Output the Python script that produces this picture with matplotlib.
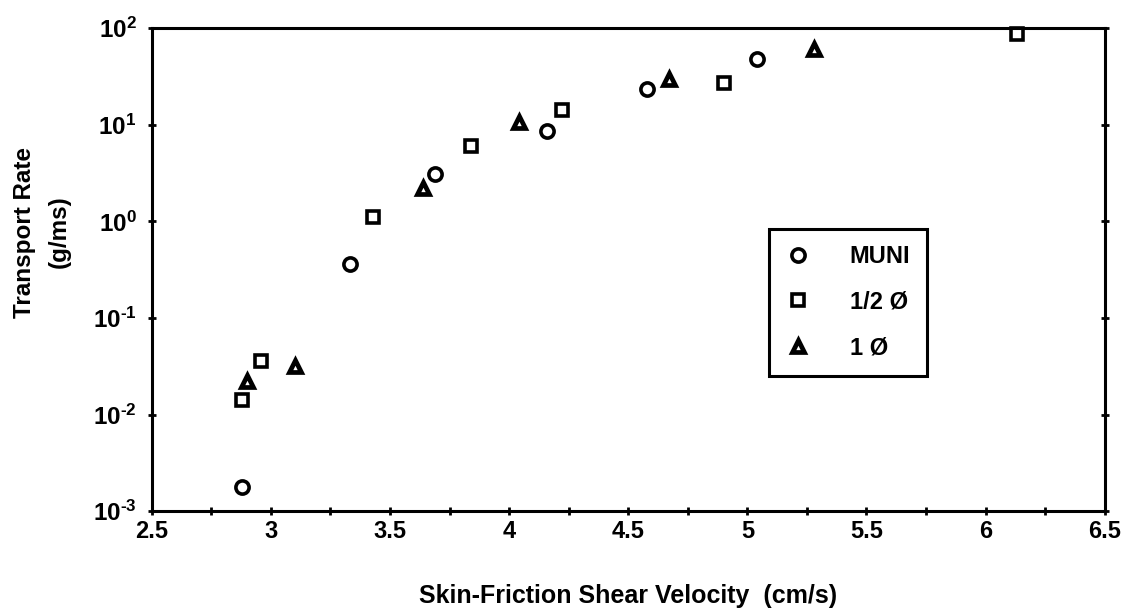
import math
import matplotlib
matplotlib.use("Agg")
import matplotlib.pyplot as plt
from matplotlib.ticker import FixedLocator, FuncFormatter, MultipleLocator

plt.rcParams['font.family'] = ['Liberation Sans', 'DejaVu Sans']
plt.rcParams['font.weight'] = 'bold'
plt.rcParams['mathtext.fontset'] = 'custom'
plt.rcParams['mathtext.rm'] = 'Liberation Sans:bold'
plt.rcParams['mathtext.bf'] = 'Liberation Sans:bold'
plt.rcParams['mathtext.it'] = 'Liberation Sans:bold'

# Data
muni_x = [2.88, 3.33, 3.69, 4.16, 4.58, 5.04]
muni_y = [0.0018, 0.36, 3.1, 8.7, 23.5, 48.0]

half_x = [2.88, 2.96, 3.43, 3.84, 4.22, 4.90, 6.13]
half_y = [0.0143, 0.036, 1.12, 6.0, 14.4, 27.0, 88.0]

one_x = [2.90, 3.10, 3.64, 4.04, 4.67, 5.28]
one_y = [0.0225, 0.032, 2.2, 10.6, 30.0, 61.0]

labels = ["MUNI", "1/2 Ø", "1 Ø"]
x_ticks = [2.5, 3, 3.5, 4, 4.5, 5, 5.5, 6, 6.5]
x_tick_labels = ["2.5", "3", "3.5", "4", "4.5", "5", "5.5", "6", "6.5"]
y_exps = [-3, -2, -1, 0, 1, 2]

fig = plt.figure(figsize=(11.33, 6.13), dpi=100)
ax = fig.add_axes([0.134, 0.166, 0.841, 0.788])

ax.plot(muni_x, muni_y, linestyle='none', marker='o', ms=9.5, mew=2.6,
        mfc='white', mec='black', label=labels[0], clip_on=False)
ax.plot(half_x, half_y, linestyle='none', marker='s', ms=9.0, mew=2.6,
        mfc='white', mec='black', label=labels[1], clip_on=False)
ax.plot(one_x, one_y, linestyle='none', marker='^', ms=8.5, mew=3.4,
        mfc='white', mec='black', label=labels[2], clip_on=False)

ax.set_yscale('log')
ax.set_xlim(2.5, 6.5)
ax.set_ylim(1e-3, 1e2)

ax.xaxis.set_major_locator(FixedLocator(x_ticks))
ax.set_xticklabels(x_tick_labels)
ax.xaxis.set_minor_locator(MultipleLocator(0.25))
ax.yaxis.set_major_locator(FixedLocator([10.0 ** e for e in y_exps]))
ax.yaxis.set_minor_locator(FixedLocator([]))


def yfmt(v, p):
    e = int(round(math.log10(v)))
    if e < 0:
        return r'$\mathbf{10^{\text{-}%d}}$' % (-e)
    return r'$\mathbf{10^{%d}}$' % e


ax.yaxis.set_major_formatter(FuncFormatter(yfmt))

for s in ax.spines.values():
    s.set_linewidth(2.2)

ax.tick_params(axis='x', which='both', direction='inout', length=6, width=2,
               labelsize=17, pad=3, top=False)
ax.tick_params(axis='y', which='major', direction='inout', length=6, width=2,
               labelsize=17.5, pad=8, right=True)
for lab in ax.get_xticklabels():
    lab.set_fontweight('bold')

ax.set_xlabel("Skin-Friction Shear Velocity  (cm/s)", fontsize=18,
              fontweight='bold', labelpad=30)

fig.text(0.022, 0.620, "Transport Rate", rotation=90, fontsize=17.5,
         fontweight='bold', ha='center', va='center')
fig.text(0.052, 0.622, "(g/ms)", rotation=90, fontsize=17.5,
         fontweight='bold', ha='center', va='center')

leg = ax.legend(loc='upper left', bbox_to_anchor=(0.648, 0.585),
                frameon=True, fancybox=False, edgecolor='black',
                framealpha=1.0,
                prop={'size': 17, 'weight': 'bold'}, borderpad=0.7,
                labelspacing=0.95, handletextpad=1.7, handlelength=1.0,
                borderaxespad=0)
leg.get_frame().set_linewidth(2.2)

fig.savefig("out.png", dpi=100)
